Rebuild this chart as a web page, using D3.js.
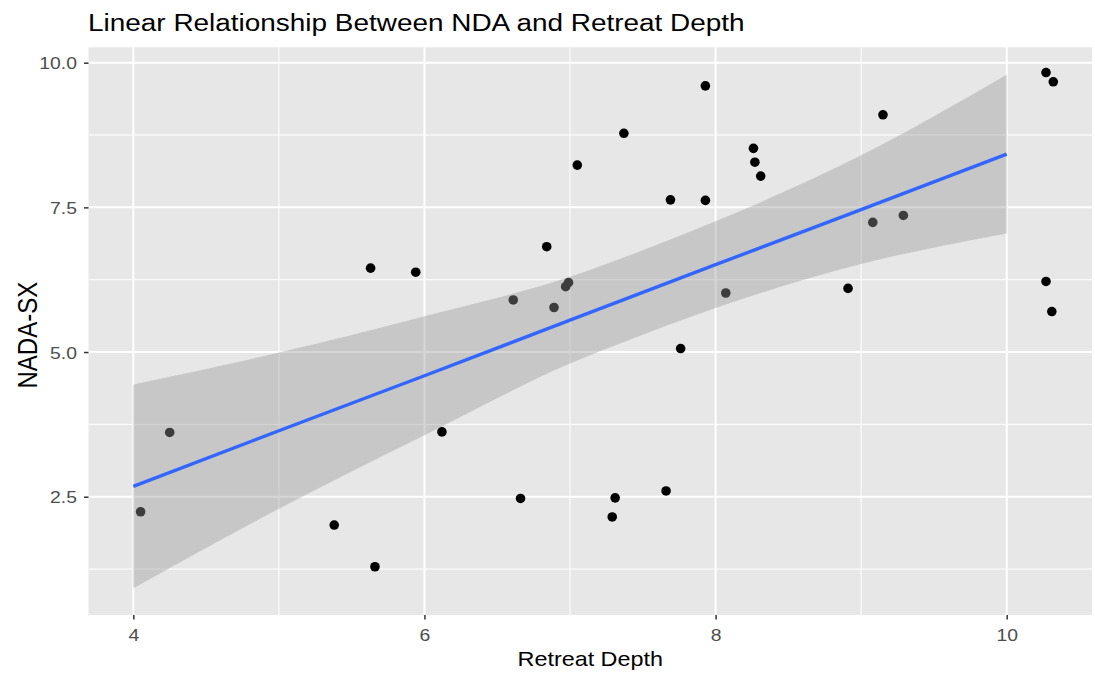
<!DOCTYPE html>
<html><head><meta charset="utf-8">
<script src="https://cdn.jsdelivr.net/npm/d3@7"></script>
<style>body{margin:0;background:#fff;} text{font-family:"Liberation Sans",Arial,sans-serif;}</style>
</head><body>
<svg id="c" width="1095" height="677"></svg>
<script>
// Observed (jittered) points
const retreatDepth = [4.05,4.25,5.38,5.66,5.63,5.94,6.12,6.61,6.66,6.84,6.89,6.97,6.99,7.05,7.29,7.31,7.37,7.66,7.69,7.76,7.93,7.93,8.07,8.26,8.27,8.31,8.91,9.08,9.15,9.29,10.27,10.32,10.27,10.31];
const nadaSX       = [2.24,3.61,2.01,1.29,6.45,6.38,3.62,5.90,2.47,6.82,5.77,6.13,6.20,8.23,2.15,2.48,8.78,2.60,7.63,5.06,9.60,7.62,6.02,8.52,8.28,8.04,6.10,7.24,9.10,7.36,9.83,9.67,6.22,5.70];
// Smoother (lm) fit and confidence band
const smoothX     = [4, 5, 6, 7, 7.5, 8, 9, 10];
const smoothFit   = [2.68, 3.64, 4.59, 5.55, 6.03, 6.51, 7.46, 8.42];
const smoothLower = [0.92, 2.29, 3.56, 4.80, 5.30, 5.76, 6.52, 7.05];
const smoothUpper = [4.44, 4.99, 5.62, 6.30, 6.76, 7.26, 8.40, 9.79];
// Axis ticks
const xMajor = [4, 6, 8, 10], xMinor = [5, 7, 9];
const yMajor = [2.5, 5.0, 7.5, 10.0], yMinor = [1.25, 3.75, 6.25, 8.75];
const titleText = "Linear Relationship Between NDA and Retreat Depth";
const xTitle = "Retreat Depth", yTitle = "NADA-SX";

const svg = d3.select("#c");
const P = {l: 88.5, r: 1092, t: 47.3, b: 615};
const SX = 1.14; // horizontal text stretch of the original
const x = d3.scaleLinear().domain([3.692, 10.586]).range([P.l, P.r]);
const y = d3.scaleLinear().domain([0.456, 10.266]).range([P.b, P.t]);

svg.append("rect").attr("x", P.l).attr("y", P.t).attr("width", P.r - P.l).attr("height", P.b - P.t).attr("fill", "#E7E7E7");
const g = svg.append("g");
g.selectAll(".ymin").data(yMinor).join("line").attr("x1", P.l).attr("x2", P.r).attr("y1", d => y(d)).attr("y2", d => y(d)).attr("stroke", "#fff").attr("stroke-width", 1);
g.selectAll(".xmin").data(xMinor).join("line").attr("y1", P.t).attr("y2", P.b).attr("x1", d => x(d)).attr("x2", d => x(d)).attr("stroke", "#fff").attr("stroke-width", 1);
g.selectAll(".ymaj").data(yMajor).join("line").attr("x1", P.l).attr("x2", P.r).attr("y1", d => y(d)).attr("y2", d => y(d)).attr("stroke", "#fff").attr("stroke-width", 2);
g.selectAll(".xmaj").data(xMajor).join("line").attr("y1", P.t).attr("y2", P.b).attr("x1", d => x(d)).attr("x2", d => x(d)).attr("stroke", "#fff").attr("stroke-width", 2);

// points
svg.append("g").selectAll("circle").data(retreatDepth.map((d, i) => [d, nadaSX[i]])).join("circle")
  .attr("cx", d => x(d[0])).attr("cy", d => y(d[1])).attr("r", 4.8).attr("fill", "#000");

// band
const band = smoothX.map((d, i) => ({x: d, lo: smoothLower[i], hi: smoothUpper[i], f: smoothFit[i]}));
svg.append("path").datum(band)
  .attr("d", d3.area().x(d => x(d.x)).y0(d => y(d.lo)).y1(d => y(d.hi)).curve(d3.curveMonotoneX))
  .attr("fill", "#999999").attr("fill-opacity", 0.4);
svg.append("path").datum(band)
  .attr("d", d3.line().x(d => x(d.x)).y(d => y(d.f)))
  .attr("fill", "none").attr("stroke", "#3366FF").attr("stroke-width", 3.4);

// axes
const xAxis = svg.append("g").attr("transform", `translate(0,${P.b})`)
  .call(d3.axisBottom(x).tickValues(xMajor).tickFormat(d3.format("d")).tickSize(4.5).tickPadding(3));
const yAxis = svg.append("g").attr("transform", `translate(${P.l},0)`)
  .call(d3.axisLeft(y).tickValues(yMajor).tickFormat(d3.format(".1f")).tickSize(4.5).tickPadding(3));
[xAxis, yAxis].forEach(a => {
  a.select(".domain").remove();
  a.selectAll(".tick line").attr("stroke", "#333333").attr("stroke-width", 1.5);
  a.selectAll(".tick text").attr("fill", "#4D4D4D").style("font-size", "17px");
});
xAxis.selectAll(".tick text").attr("dy", null).attr("y", 26);
yAxis.selectAll(".tick text").each(function () {
  const t = d3.select(this);
  const xx = +t.attr("x");
  t.attr("x", 0).attr("transform", `translate(${xx - 4},0) scale(${SX},1)`).attr("dy", "0.36em");
});
xAxis.selectAll(".tick text").each(function () {
  d3.select(this).attr("transform", `scale(${SX},1)`);
});

// titles
svg.append("text").attr("transform", `translate(88,31) scale(${SX},1)`).attr("fill", "#000").style("font-size", "24.5px").text(titleText);
svg.append("text").attr("transform", `translate(${(P.l + P.r) / 2},666) scale(${SX},1)`).attr("text-anchor", "middle").attr("fill", "#000").style("font-size", "20.5px").text(xTitle);
svg.append("text").attr("transform", `translate(37,${(P.t + P.b) / 2 + 4}) rotate(-90) scale(1,${SX})`).attr("text-anchor", "middle").attr("fill", "#000").style("font-size", "24px").text(yTitle);
</script>
</body></html>
